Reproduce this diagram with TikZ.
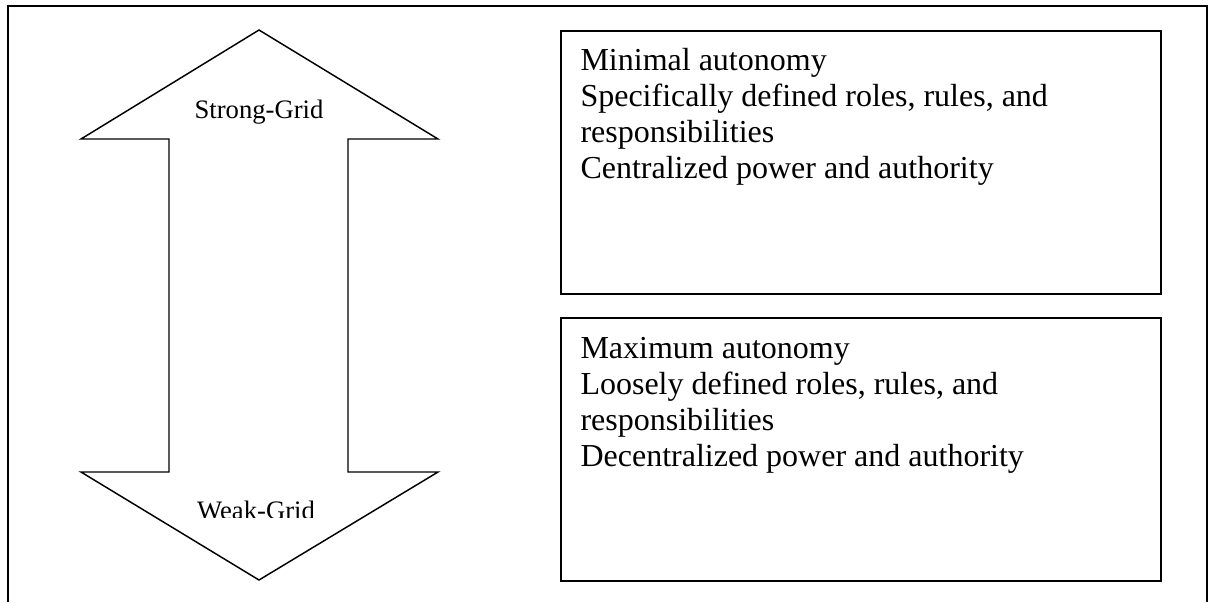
\documentclass[tikz,border=0pt]{standalone}
\usepackage{fontspec}
\setmainfont{Liberation Serif}
\begin{document}
% one unit = one pixel of a 1209 x 602 canvas, y growing downwards
\begin{tikzpicture}[x=0.375pt,y=-0.375pt,
  frameline/.style={line width=0.75pt},
  boxline/.style={draw,line width=0.75pt,rectangle,inner sep=0pt},
  arrowline/.style={line width=0.55pt,line join=miter},
  boxtext/.style={anchor=base west,align=left,inner sep=0pt,
    font=\fontsize{12}{13.5}\selectfont},
  gridlabel/.style={anchor=base,inner sep=0pt,
    font=\fontsize{10}{12}\selectfont}]
\useasboundingbox (0,0) rectangle (1209,602);

% outer frame, open at the bottom
\coordinate (fbl) at (7.5,602);
\coordinate (ftl) at (7.5,6);
\coordinate (ftr) at (1207,6);
\coordinate (fbr) at (1207,602);
\draw[frameline] (fbl) -- (ftl) -- (ftr) -- (fbr);

% double-headed vertical arrow
\draw[arrowline] (259,30) -- (438,139) -- (348,139) -- (348,472)
  -- (438,472) -- (259,580) -- (81,472) -- (169,472) -- (169,139)
  -- (81,139) -- cycle;

\node[gridlabel] (strong) at (259,118) {Strong-Grid};
\begin{scope}
  \clip (150,480) rectangle (370,517);
  \node[gridlabel] (weak) at (256,519) {Weak-Grid};
\end{scope}

% description boxes
\node[boxline,anchor=north west,minimum width=600*0.375pt,minimum height=263*0.375pt]
  (upper) at (560,30) {};
\node[boxline,anchor=north west,minimum width=600*0.375pt,minimum height=263*0.375pt]
  (lower) at (560,317) {};

% multi-line texts are anchored at the baseline of their last line
\node[boxtext] (uppertext) at (580,178) {Minimal autonomy\\
  Specifically defined roles, rules, and\\
  responsibilities\\
  Centralized power and authority};
\node[boxtext] (lowertext) at (580,466) {Maximum autonomy\\
  Loosely defined roles, rules, and\\
  responsibilities\\
  Decentralized power and authority};
\end{tikzpicture}
\end{document}
